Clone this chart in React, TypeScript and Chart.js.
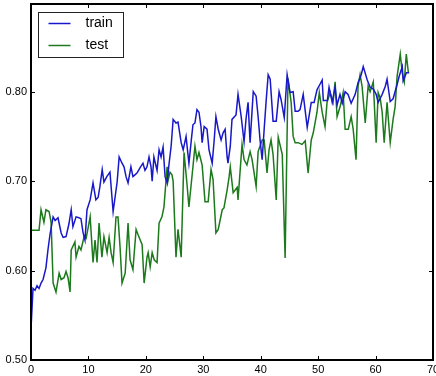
import React, { useEffect, useRef } from 'react';
import { Chart, registerables } from 'chart.js';

Chart.register(...registerables);

const seriesNames = ['train', 'test'];

const trainX = [
  0, 0.35, 0.7, 1.05, 1.4, 1.75, 2.1, 2.6, 2.95, 3.3,
  3.85, 4.2, 4.7, 5.25, 5.6, 6.1, 6.6, 7.0, 7.3, 7.85,
  8.35, 8.7, 9.05, 9.4, 9.75, 10.3, 10.8, 11.3, 11.7, 12.0,
  12.4, 12.7, 13.2, 13.75, 14.3, 15.0, 15.35, 15.85, 16.2, 16.55,
  16.9, 17.4, 17.75, 18.1, 18.45, 19.0, 19.5, 19.85, 20.2, 20.55,
  20.9, 21.1, 21.4, 21.95, 22.3, 22.65, 23.0, 23.35, 23.7, 24.05,
  24.4, 24.75, 25.25, 25.6, 26.15, 26.5, 27.0, 27.5, 27.9, 28.2,
  28.55, 28.9, 29.25, 29.6, 29.8, 30.15, 30.65, 31.0, 31.55, 31.9,
  32.2, 32.6, 33.1, 33.45, 33.8, 34.15, 34.3, 34.7, 35.0, 35.7,
  36.05, 36.6, 37.1, 37.45, 37.8, 38.15, 38.7, 39.2, 39.55, 39.9,
  40.25, 40.6, 40.95, 41.3, 41.65, 42.15, 42.7, 43.2, 43.55, 44.1,
  44.6, 45.1, 45.65, 46.0, 46.5, 46.85, 47.4, 48.1, 48.8, 49.3,
  49.8, 50.3, 50.7, 50.9, 51.6, 51.9, 52.45, 52.95, 53.3, 53.8,
  54.2, 54.7, 55.2, 55.75, 56.45, 56.95, 57.5, 57.85, 58.55, 59.05,
  59.6, 60.1, 60.45, 61.15, 61.7, 62.0, 62.55, 63.05, 63.75, 64.1,
  64.65, 64.8, 65.35, 65.85,
];

const trainY = [
  0.535, 0.580, 0.578, 0.583, 0.580, 0.586, 0.590, 0.603, 0.623, 0.640,
  0.660, 0.656, 0.659, 0.642, 0.637, 0.638, 0.652, 0.668, 0.649, 0.660,
  0.659, 0.658, 0.643, 0.634, 0.668, 0.679, 0.698, 0.679, 0.682, 0.694,
  0.713, 0.699, 0.705, 0.710, 0.666, 0.699, 0.727, 0.720, 0.716, 0.705,
  0.698, 0.716, 0.705, 0.707, 0.709, 0.715, 0.720, 0.712, 0.716, 0.727,
  0.716, 0.700, 0.727, 0.712, 0.735, 0.727, 0.738, 0.705, 0.698, 0.720,
  0.739, 0.769, 0.765, 0.766, 0.743, 0.735, 0.750, 0.720, 0.745, 0.763,
  0.765, 0.780, 0.777, 0.761, 0.743, 0.761, 0.758, 0.735, 0.720, 0.746,
  0.772, 0.758, 0.746, 0.754, 0.758, 0.727, 0.720, 0.739, 0.769, 0.774,
  0.797, 0.772, 0.744, 0.770, 0.788, 0.743, 0.800, 0.795, 0.772, 0.745,
  0.724, 0.758, 0.790, 0.819, 0.814, 0.767, 0.767, 0.800, 0.791, 0.771,
  0.819, 0.799, 0.800, 0.778, 0.778, 0.780, 0.797, 0.760, 0.788, 0.788,
  0.802, 0.808, 0.813, 0.790, 0.790, 0.805, 0.788, 0.805, 0.785, 0.797,
  0.787, 0.800, 0.797, 0.787, 0.797, 0.810, 0.819, 0.828, 0.813, 0.805,
  0.803, 0.797, 0.788, 0.797, 0.806, 0.814, 0.789, 0.792, 0.808, 0.817,
  0.828, 0.812, 0.821, 0.821,
];

const testX = [
  0, 0.35, 0.85, 1.4, 1.75, 2.25, 2.6, 3.15, 3.5, 3.85,
  4.35, 4.9, 5.25, 5.75, 6.1, 6.45, 6.8, 7.0, 7.65, 7.85,
  8.35, 8.7, 9.25, 9.6, 9.95, 10.3, 10.8, 11.15, 11.5, 11.85,
  12.35, 12.7, 13.25, 13.6, 13.95, 14.3, 14.8, 15.15, 15.5, 15.85,
  16.4, 16.9, 17.25, 17.75, 18.3, 18.65, 19.35, 19.7, 20.2, 20.4,
  20.75, 21.1, 21.45, 21.95, 22.3, 22.8, 23.15, 23.7, 23.85, 24.2,
  24.55, 24.75, 25.25, 25.6, 26.15, 26.65, 27.2, 27.5, 28.2, 28.55,
  28.9, 29.25, 29.8, 30.3, 30.85, 31.35, 31.7, 32.2, 32.6, 33.3,
  33.6, 34.15, 34.5, 34.7, 35.2, 35.9, 36.05, 36.75, 37.1, 37.6,
  38.15, 38.5, 39.2, 39.55, 40.25, 40.6, 41.1, 41.45, 41.8, 42.15,
  42.7, 43.05, 43.75, 44.25, 44.75, 45.3, 45.65, 46.0, 46.5, 47.2,
  47.75, 48.25, 48.8, 49.15, 49.8, 50.2, 50.7, 51.2, 51.55, 52.1,
  52.6, 52.95, 53.3, 53.85, 54.35, 54.7, 55.25, 55.75, 56.1, 56.6,
  56.95, 57.3, 57.65, 58.2, 58.7, 59.05, 59.6, 60.1, 60.45, 60.8,
  61.15, 61.5, 62.0, 62.55, 63.05, 63.4, 63.75, 64.3, 64.65, 65.0,
  65.35, 65.7,
];

const testY = [
  0.645, 0.645, 0.645, 0.645, 0.668, 0.654, 0.668, 0.666, 0.654, 0.586,
  0.576, 0.597, 0.590, 0.592, 0.599, 0.592, 0.576, 0.623, 0.632, 0.615,
  0.627, 0.623, 0.638, 0.636, 0.648, 0.660, 0.609, 0.634, 0.609, 0.653,
  0.615, 0.638, 0.620, 0.637, 0.620, 0.609, 0.660, 0.660, 0.627, 0.586,
  0.597, 0.653, 0.612, 0.601, 0.646, 0.640, 0.629, 0.586, 0.615, 0.620,
  0.604, 0.620, 0.612, 0.609, 0.653, 0.660, 0.671, 0.716, 0.700, 0.710,
  0.707, 0.700, 0.615, 0.646, 0.615, 0.732, 0.694, 0.671, 0.716, 0.739,
  0.724, 0.732, 0.718, 0.677, 0.677, 0.713, 0.702, 0.642, 0.646, 0.668,
  0.670, 0.690, 0.705, 0.716, 0.687, 0.693, 0.679, 0.741, 0.724, 0.718,
  0.733, 0.724, 0.694, 0.733, 0.746, 0.746, 0.709, 0.735, 0.746, 0.730,
  0.679, 0.749, 0.730, 0.614, 0.815, 0.788, 0.750, 0.743, 0.743, 0.741,
  0.745, 0.709, 0.746, 0.754, 0.777, 0.799, 0.777, 0.761, 0.788, 0.799,
  0.788, 0.811, 0.772, 0.784, 0.799, 0.758, 0.758, 0.772, 0.758, 0.724,
  0.806, 0.819, 0.806, 0.765, 0.806, 0.800, 0.811, 0.743, 0.799, 0.793,
  0.777, 0.743, 0.788, 0.743, 0.769, 0.783, 0.817, 0.842, 0.821, 0.811,
  0.842, 0.822,
];

const xTickLabels = ['0', '10', '20', '30', '40', '50', '60', '70'];
const yTickLabels = ['0.50', '0.60', '0.70', '0.80'];

const TRAIN_COLOR = '#1818c8';
const TEST_COLOR = '#1c7a1c';
const TICK_FONT = "'Liberation Sans Narrow', 'Liberation Sans', Arial, sans-serif";

const framePlugin = {
  id: 'mplFrame',
  afterDatasetsDraw(chart: any) {
    const { ctx, chartArea: a, scales } = chart;
    ctx.save();
    ctx.strokeStyle = '#000';
    ctx.lineWidth = 1;
    const tl = 4;
    ctx.beginPath();
    scales.x.ticks.forEach((t: any) => {
      const px = Math.round(scales.x.getPixelForValue(t.value)) + 0.5;
      ctx.moveTo(px, a.bottom);
      ctx.lineTo(px, a.bottom - tl);
      ctx.moveTo(px, a.top);
      ctx.lineTo(px, a.top + tl);
    });
    scales.y.ticks.forEach((t: any) => {
      const py = Math.round(scales.y.getPixelForValue(t.value)) + 0.5;
      ctx.moveTo(a.left, py);
      ctx.lineTo(a.left + tl, py);
      ctx.moveTo(a.right, py);
      ctx.lineTo(a.right - tl, py);
    });
    ctx.stroke();
    ctx.lineWidth = 2;
    ctx.strokeRect(a.left, a.top, a.right - a.left, a.bottom - a.top);

    // legend box (matplotlib style)
    const bx = a.left + 7.5;
    const by = a.top + 8.5;
    const bw = 85;
    const bh = 45;
    ctx.fillStyle = '#fff';
    ctx.fillRect(bx, by, bw, bh);
    ctx.lineWidth = 1;
    ctx.strokeStyle = '#222';
    ctx.strokeRect(bx, by, bw, bh);
    ctx.font = "14px 'Liberation Sans', Arial, sans-serif";
    ctx.textBaseline = 'middle';
    ctx.textAlign = 'left';
    chart.data.datasets.forEach((ds: any, i: number) => {
      const cy = by + 11 + i * 22;
      ctx.strokeStyle = ds.borderColor;
      ctx.lineWidth = 1.5;
      ctx.beginPath();
      ctx.moveTo(bx + 10, cy);
      ctx.lineTo(bx + 32, cy);
      ctx.stroke();
      ctx.fillStyle = '#000';
      ctx.fillText(ds.label, bx + 47, cy);
    });
    ctx.restore();
  },
};

export default function App() {
  const canvasRef = useRef<HTMLCanvasElement | null>(null);

  useEffect(() => {
    if (!canvasRef.current) return;
    const chart = new Chart(canvasRef.current, {
      type: 'line',
      data: {
        datasets: [
          {
            label: seriesNames[0],
            data: trainX.map((x, i) => ({ x, y: trainY[i] })),
            borderColor: TRAIN_COLOR,
            backgroundColor: TRAIN_COLOR,
            borderWidth: 1.5,
            pointRadius: 0,
            tension: 0,
            fill: false,
          },
          {
            label: seriesNames[1],
            data: testX.map((x, i) => ({ x, y: testY[i] })),
            borderColor: TEST_COLOR,
            backgroundColor: TEST_COLOR,
            borderWidth: 1.5,
            pointRadius: 0,
            tension: 0,
            fill: false,
          },
        ],
      },
      options: {
        animation: false,
        responsive: true,
        maintainAspectRatio: false,
        layout: { padding: { top: 4, right: 3, left: 0, bottom: 0 } },
        plugins: {
          legend: { display: false },
          tooltip: { enabled: false },
        },
        scales: {
          x: {
            type: 'linear',
            min: 0,
            max: 70,
            grid: { display: false, drawTicks: false },
            border: { display: false },
            ticks: {
              stepSize: 10,
              padding: 3,
              color: '#000',
              maxRotation: 0,
              font: { family: TICK_FONT, size: 11 },
              callback: (_v: any, i: number) => xTickLabels[i],
            },
            afterFit: (s: any) => {
              s.height = 16;
              s.paddingLeft = 0;
              s.paddingRight = 0;
            },
          },
          y: {
            type: 'linear',
            min: 0.5,
            max: 0.898,
            grid: { display: false, drawTicks: false },
            border: { display: false },
            ticks: {
              stepSize: 0.1,
              includeBounds: false,
              padding: 4,
              color: '#000',
              font: { family: TICK_FONT, size: 11 },
              callback: (_v: any, i: number) => yTickLabels[i],
            },
            afterFit: (s: any) => {
              s.width = 31;
              s.paddingTop = 0;
              s.paddingBottom = 0;
            },
          },
        },
      },
      plugins: [framePlugin],
    });
    return () => chart.destroy();
  }, []);

  return (
    <div style={{ position: 'absolute', left: 0, top: 0, width: 436, height: 376, background: '#fff' }}>
      <canvas ref={canvasRef} />
    </div>
  );
}
